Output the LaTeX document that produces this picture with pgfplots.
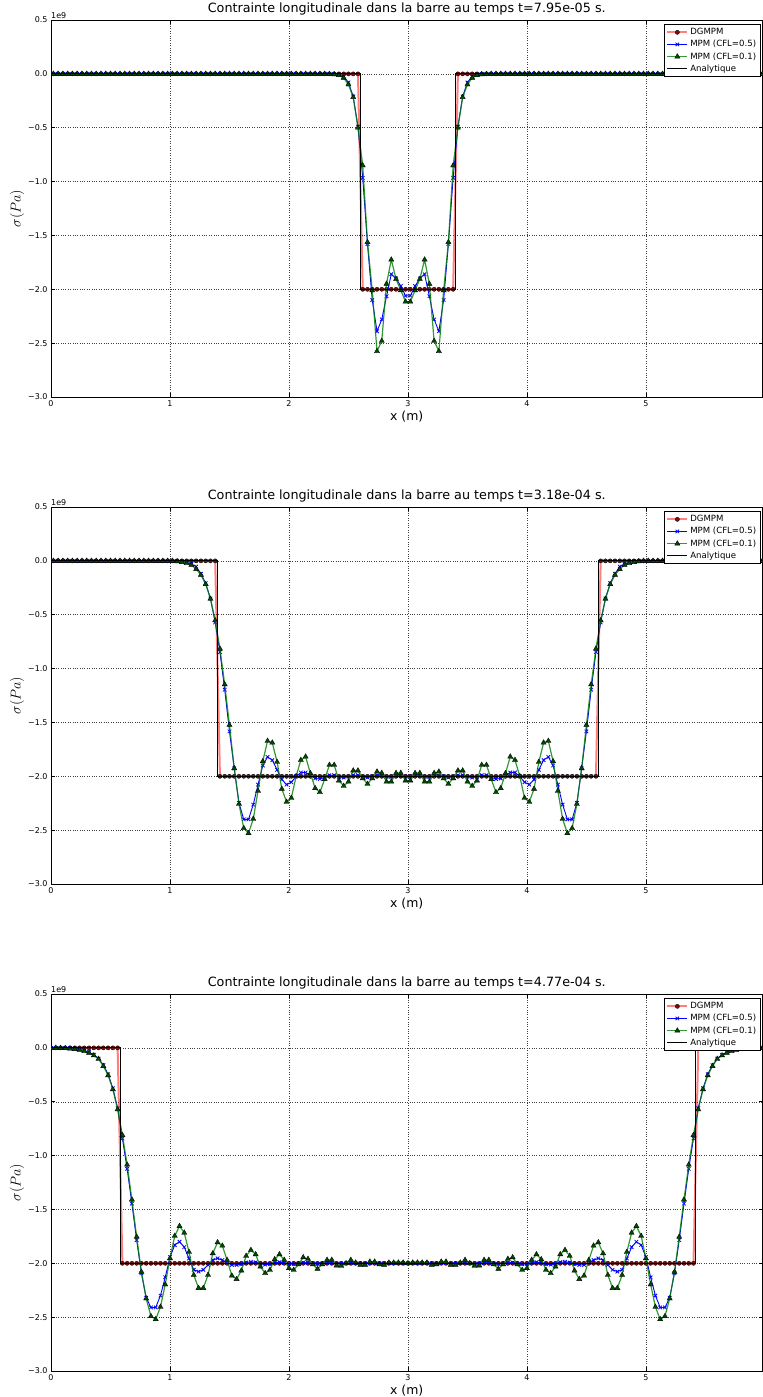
\documentclass[border=0pt]{standalone}
\usepackage{fontspec}
\setmainfont{DejaVu Sans}
\usepackage{pgfplots}
\usepackage{pgfplotstable}
\pgfplotsset{compat=1.18}
\definecolor{dgfill}{RGB}{115,18,18}
\definecolor{mgreen}{RGB}{0,128,0}
\definecolor{tfill}{RGB}{0,75,0}

\pgfplotstableread{
x dg m5 m1
0.02 0 0 0
0.06 0 0 0
0.10 0 0 0
0.14 0 0 0
0.18 0 0 0
0.22 0 0 0
0.26 0 0 0
0.30 0 0 0
0.34 0 0 0
0.38 0 0 0
0.42 0 0 0
0.46 0 0 0
0.50 0 0 0
0.54 0 0 0
0.58 0 0 0
0.62 0 0 0
0.66 0 0 0
0.70 0 0 0
0.74 0 0 0
0.78 0 0 0
0.82 0 0 0
0.86 0 0 0
0.90 0 0 0
0.94 0 0 0
0.98 0 0 0
1.02 0 0 0
1.06 0 0 0
1.10 0 0 0
1.14 0 0 0
1.18 0 0 0
1.22 0 0 0
1.26 0 0 0
1.30 0 0 0
1.34 0 0 0
1.38 0 0 0
1.42 0 0 0
1.46 0 0 0
1.50 0 0 0
1.54 0 0 0
1.58 0 0 0
1.62 0 0 0
1.66 0 0 0
1.70 0 0 0
1.74 0 0 0
1.78 0 0 0
1.82 0 0 0
1.86 0 0 0
1.90 0 0 0
1.94 0 0 0
1.98 0 0 0
2.02 0 0 0
2.06 0 0 0
2.10 0 0 0
2.14 0 0 0
2.18 0 0 0
2.22 0 0 0
2.26 0 0 0
2.30 0 0 0
2.34 0 0 -0.002
2.38 0 -0.003 -0.005
2.42 0 -0.008 -0.013
2.46 0 -0.025 -0.037
2.50 0 -0.08 -0.099
2.54 0 -0.21 -0.217
2.58 0 -0.49 -0.50
2.62 -2 -0.965 -0.851
2.66 -2 -1.58 -1.563
2.70 -2 -2.10 -2.01
2.74 -2 -2.39 -2.575
2.78 -2 -2.28 -2.48
2.82 -2 -2.065 -1.95
2.86 -2 -1.86 -1.725
2.90 -2 -1.90 -1.905
2.94 -2 -1.97 -2.01
2.98 -2 -2.06 -2.115
3.02 -2 -2.06 -2.115
3.06 -2 -1.97 -2.01
3.10 -2 -1.90 -1.905
3.14 -2 -1.86 -1.725
3.18 -2 -2.065 -1.95
3.22 -2 -2.28 -2.48
3.26 -2 -2.39 -2.575
3.30 -2 -2.10 -2.01
3.34 -2 -1.58 -1.563
3.38 -2 -0.965 -0.851
3.42 0 -0.49 -0.50
3.46 0 -0.21 -0.217
3.50 0 -0.08 -0.099
3.54 0 -0.025 -0.037
3.58 0 -0.008 -0.013
3.62 0 -0.003 -0.005
3.66 0 0 -0.002
3.70 0 0 0
3.74 0 0 0
3.78 0 0 0
3.82 0 0 0
3.86 0 0 0
3.90 0 0 0
3.94 0 0 0
3.98 0 0 0
4.02 0 0 0
4.06 0 0 0
4.10 0 0 0
4.14 0 0 0
4.18 0 0 0
4.22 0 0 0
4.26 0 0 0
4.30 0 0 0
4.34 0 0 0
4.38 0 0 0
4.42 0 0 0
4.46 0 0 0
4.50 0 0 0
4.54 0 0 0
4.58 0 0 0
4.62 0 0 0
4.66 0 0 0
4.70 0 0 0
4.74 0 0 0
4.78 0 0 0
4.82 0 0 0
4.86 0 0 0
4.90 0 0 0
4.94 0 0 0
4.98 0 0 0
5.02 0 0 0
5.06 0 0 0
5.10 0 0 0
5.14 0 0 0
5.18 0 0 0
5.22 0 0 0
5.26 0 0 0
5.30 0 0 0
5.34 0 0 0
5.38 0 0 0
5.42 0 0 0
5.46 0 0 0
5.50 0 0 0
5.54 0 0 0
5.58 0 0 0
5.62 0 0 0
5.66 0 0 0
5.70 0 0 0
5.74 0 0 0
5.78 0 0 0
5.82 0 0 0
5.86 0 0 0
5.90 0 0 0
5.94 0 0 0
5.98 0 0 0
}\tA

\pgfplotstableread{
x dg m5 m1
0.02 0 0 0
0.06 0 0 0
0.10 0 0 0
0.14 0 0 0
0.18 0 0 0
0.22 0 0 0
0.26 0 0 0
0.30 0 0 0
0.34 0 0 0
0.38 0 0 0
0.42 0 0 0
0.46 0 0 0
0.50 0 0 0
0.54 0 0 0
0.58 0 0 0
0.62 0 0 0
0.66 0 0 0
0.70 0 0 0
0.74 0 0 0
0.78 0 0 0
0.82 0 0 0
0.86 0 0 0
0.90 0 0 0
0.94 0 0 0
0.98 0 0 0
1.02 0 0 0
1.06 0 0 -0.005
1.10 0 -0.006 -0.012
1.14 0 -0.015 -0.022
1.18 0 -0.03 -0.037
1.22 0 -0.053 -0.077
1.26 0 -0.12 -0.130
1.30 0 -0.207 -0.216
1.34 0 -0.35 -0.352
1.38 0 -0.572 -0.553
1.42 -2 -0.847 -0.816
1.46 -2 -1.196 -1.147
1.50 -2 -1.583 -1.524
1.54 -2 -1.926 -1.926
1.58 -2 -2.247 -2.257
1.62 -2 -2.40 -2.482
1.66 -2 -2.40 -2.529
1.70 -2 -2.263 -2.396
1.74 -2 -2.077 -2.136
1.78 -2 -1.90 -1.861
1.82 -2 -1.82 -1.672
1.86 -2 -1.85 -1.688
1.90 -2 -1.94 -1.867
1.94 -2 -2.03 -2.117
1.98 -2 -2.077 -2.238
2.02 -2 -2.055 -2.201
2.06 -2 -2.0 -2.0
2.10 -2 -1.965 -1.849
2.14 -2 -1.965 -1.818
2.18 -2 -1.99 -1.972
2.22 -2 -2.02 -2.111
2.26 -2 -2.025 -2.148
2.30 -2 -2.01 -2.028
2.34 -2 -1.99 -1.895
2.38 -2 -1.99 -1.895
2.42 -2 -2.005 -2.04
2.46 -2 -2.012 -2.09
2.50 -2 -2.003 -2.05
2.54 -2 -1.99 -1.947
2.58 -2 -1.99 -1.947
2.62 -2 -2.003 -2.019
2.66 -2 -2.01 -2.071
2.70 -2 -2.0 -2.02
2.74 -2 -1.995 -1.957
2.78 -2 -1.995 -1.97
2.82 -2 -2.005 -2.05
2.86 -2 -2.005 -2.05
2.90 -2 -1.995 -1.97
2.94 -2 -1.995 -1.97
2.98 -2 -2.003 -2.04
3.02 -2 -2.003 -2.04
3.06 -2 -1.995 -1.97
3.10 -2 -1.995 -1.97
3.14 -2 -2.005 -2.05
3.18 -2 -2.005 -2.05
3.22 -2 -1.995 -1.97
3.26 -2 -1.995 -1.957
3.30 -2 -2.0 -2.02
3.34 -2 -2.01 -2.071
3.38 -2 -2.003 -2.019
3.42 -2 -1.99 -1.947
3.46 -2 -1.99 -1.947
3.50 -2 -2.003 -2.05
3.54 -2 -2.012 -2.09
3.58 -2 -2.005 -2.04
3.62 -2 -1.99 -1.895
3.66 -2 -1.99 -1.895
3.70 -2 -2.01 -2.028
3.74 -2 -2.025 -2.148
3.78 -2 -2.02 -2.111
3.82 -2 -1.99 -1.972
3.86 -2 -1.965 -1.818
3.90 -2 -1.965 -1.849
3.94 -2 -2.0 -2.0
3.98 -2 -2.055 -2.201
4.02 -2 -2.077 -2.238
4.06 -2 -2.03 -2.117
4.10 -2 -1.94 -1.867
4.14 -2 -1.85 -1.688
4.18 -2 -1.82 -1.672
4.22 -2 -1.90 -1.861
4.26 -2 -2.077 -2.136
4.30 -2 -2.263 -2.396
4.34 -2 -2.40 -2.529
4.38 -2 -2.40 -2.482
4.42 -2 -2.247 -2.257
4.46 -2 -1.926 -1.926
4.50 -2 -1.583 -1.524
4.54 -2 -1.196 -1.147
4.58 -2 -0.847 -0.816
4.62 0 -0.572 -0.553
4.66 0 -0.35 -0.352
4.70 0 -0.207 -0.216
4.74 0 -0.12 -0.130
4.78 0 -0.053 -0.077
4.82 0 -0.03 -0.037
4.86 0 -0.015 -0.022
4.90 0 -0.006 -0.012
4.94 0 0 -0.005
4.98 0 0 0
5.02 0 0 0
5.06 0 0 0
5.10 0 0 0
5.14 0 0 0
5.18 0 0 0
5.22 0 0 0
5.26 0 0 0
5.30 0 0 0
5.34 0 0 0
5.38 0 0 0
5.42 0 0 0
5.46 0 0 0
5.50 0 0 0
5.54 0 0 0
5.58 0 0 0
5.62 0 0 0
5.66 0 0 0
5.70 0 0 0
5.74 0 0 0
5.78 0 0 0
5.82 0 0 0
5.86 0 0 0
5.90 0 0 0
5.94 0 0 0
5.98 0 0 0
}\tB

\pgfplotstableread{
x dg m5 m1
0.00 0 0 0
0.04 0 0 -0.001
0.08 0 0 -0.002
0.12 0 -0.002 -0.004
0.16 0 -0.004 -0.007
0.20 0 -0.008 -0.012
0.24 0 -0.015 -0.02
0.28 0 -0.025 -0.031
0.32 0 -0.04 -0.046
0.36 0 -0.065 -0.07
0.40 0 -0.10 -0.103
0.44 0 -0.16 -0.169
0.48 0 -0.245 -0.255
0.52 0 -0.375 -0.385
0.56 0 -0.56 -0.572
0.60 -2 -0.84 -0.81
0.64 -2 -1.123 -1.085
0.68 -2 -1.446 -1.409
0.72 -2 -1.785 -1.754
0.76 -2 -2.092 -2.08
0.80 -2 -2.32 -2.327
0.84 -2 -2.41 -2.492
0.88 -2 -2.41 -2.52
0.92 -2 -2.30 -2.405
0.96 -2 -2.13 -2.197
1.00 -2 -1.943 -1.954
1.04 -2 -1.83 -1.746
1.08 -2 -1.80 -1.655
1.12 -2 -1.85 -1.717
1.16 -2 -1.955 -1.895
1.20 -2 -2.06 -2.109
1.24 -2 -2.077 -2.23
1.28 -2 -2.06 -2.23
1.32 -2 -2.015 -2.108
1.36 -2 -1.97 -1.908
1.40 -2 -1.954 -1.806
1.44 -2 -1.97 -1.837
1.48 -2 -1.994 -1.97
1.52 -2 -2.015 -2.115
1.56 -2 -2.015 -2.147
1.60 -2 -2.008 -2.068
1.64 -2 -1.993 -1.932
1.68 -2 -1.986 -1.877
1.72 -2 -1.99 -1.917
1.76 -2 -2.004 -2.031
1.80 -2 -2.012 -2.092
1.84 -2 -2.008 -2.062
1.88 -2 -1.996 -1.963
1.92 -2 -1.99 -1.917
1.96 -2 -1.995 -1.969
2.00 -2 -2.006 -2.046
2.04 -2 -2.008 -2.062
2.08 -2 -2.002 -2.01
2.12 -2 -1.994 -1.945
2.16 -2 -1.995 -1.96
2.20 -2 -2.002 -2.01
2.24 -2 -2.006 -2.052
2.28 -2 -2.002 -2.01
2.32 -2 -1.996 -1.969
2.36 -2 -1.996 -1.969
2.40 -2 -2.003 -2.022
2.44 -2 -2.003 -2.025
2.48 -2 -2.0 -2.0
2.52 -2 -1.996 -1.969
2.56 -2 -1.999 -1.994
2.60 -2 -2.002 -2.015
2.64 -2 -2.002 -2.015
2.68 -2 -1.998 -1.985
2.72 -2 -1.998 -1.985
2.76 -2 -2.001 -2.01
2.80 -2 -2.002 -2.015
2.84 -2 -1.999 -1.994
2.88 -2 -1.999 -1.994
2.92 -2 -1.999 -1.994
2.96 -2 -1.999 -1.994
3.00 -2 -2.0 -2.0
3.04 -2 -1.999 -1.994
3.08 -2 -1.999 -1.994
3.12 -2 -1.999 -1.994
3.16 -2 -1.999 -1.994
3.20 -2 -2.002 -2.015
3.24 -2 -2.001 -2.01
3.28 -2 -1.998 -1.985
3.32 -2 -1.998 -1.985
3.36 -2 -2.002 -2.015
3.40 -2 -2.002 -2.015
3.44 -2 -1.999 -1.994
3.48 -2 -1.996 -1.969
3.52 -2 -2.0 -2.0
3.56 -2 -2.003 -2.025
3.60 -2 -2.003 -2.022
3.64 -2 -1.996 -1.969
3.68 -2 -1.996 -1.969
3.72 -2 -2.002 -2.01
3.76 -2 -2.006 -2.052
3.80 -2 -2.002 -2.01
3.84 -2 -1.995 -1.96
3.88 -2 -1.994 -1.945
3.92 -2 -2.002 -2.01
3.96 -2 -2.008 -2.062
4.00 -2 -2.006 -2.046
4.04 -2 -1.995 -1.969
4.08 -2 -1.99 -1.917
4.12 -2 -1.996 -1.963
4.16 -2 -2.008 -2.062
4.20 -2 -2.012 -2.092
4.24 -2 -2.004 -2.031
4.28 -2 -1.99 -1.917
4.32 -2 -1.986 -1.877
4.36 -2 -1.993 -1.932
4.40 -2 -2.008 -2.068
4.44 -2 -2.015 -2.147
4.48 -2 -2.015 -2.115
4.52 -2 -1.994 -1.97
4.56 -2 -1.97 -1.837
4.60 -2 -1.954 -1.806
4.64 -2 -1.97 -1.908
4.68 -2 -2.015 -2.108
4.72 -2 -2.06 -2.23
4.76 -2 -2.077 -2.23
4.80 -2 -2.06 -2.109
4.84 -2 -1.955 -1.895
4.88 -2 -1.85 -1.717
4.92 -2 -1.80 -1.655
4.96 -2 -1.83 -1.746
5.00 -2 -1.943 -1.954
5.04 -2 -2.13 -2.197
5.08 -2 -2.30 -2.405
5.12 -2 -2.41 -2.52
5.16 -2 -2.41 -2.492
5.20 -2 -2.32 -2.327
5.24 -2 -2.092 -2.08
5.28 -2 -1.785 -1.754
5.32 -2 -1.446 -1.409
5.36 -2 -1.123 -1.085
5.40 -2 -0.84 -0.81
5.44 0 -0.56 -0.572
5.48 0 -0.375 -0.385
5.52 0 -0.245 -0.255
5.56 0 -0.16 -0.169
5.60 0 -0.10 -0.103
5.64 0 -0.065 -0.07
5.68 0 -0.04 -0.046
5.72 0 -0.025 -0.031
5.76 0 -0.015 -0.02
5.80 0 -0.008 -0.012
5.84 0 -0.004 -0.007
5.88 0 -0.002 -0.004
5.92 0 0 -0.002
5.96 0 0 -0.001
6.00 0 0 0
}\tC

\pgfplotsset{
  base/.style={
    width=711.5bp, height=377bp, scale only axis,
    xmin=0, xmax=5.98, ymin=-3, ymax=0.5,
    xtick={0,1,2,3,4,5}, xticklabels={0,1,2,3,4,5},
    ytick={-3,-2.5,-2,-1.5,-1,-0.5,0,0.5},
    yticklabels={−3.0,−2.5,−2.0,−1.5,−1.0,−0.5,0.0,0.5},
    grid=major, major grid style={black!75, dotted, line width=0.45bp},
    tick align=inside, major tick length=4bp,
    every tick/.style={black, line width=0.5bp},
    axis line style={black, line width=0.8bp},
    ticklabel style={font=\fontsize{8}{9}\selectfont},
    xlabel={x (m)},
    xlabel style={font=\fontsize{12.5}{14}\selectfont, at={(axis description cs:0.5,0)}, anchor=base, yshift=-23bp},
    ylabel={$\sigma(Pa)$},
    ylabel style={font=\fontsize{14}{16}\selectfont, at={(axis description cs:-0.0478,0.5)}, anchor=center},
    title style={font=\fontsize{12.8}{15}\selectfont, at={(axis description cs:0.5,1)}, anchor=base, yshift=2bp},
    legend style={at={(axis description cs:1,1)}, anchor=north east, xshift=-2bp, yshift=-4bp,
      font=\fontsize{8.6}{10}\selectfont, draw=black, line width=0.8bp, inner sep=2bp, row sep=0.2bp},
    legend cell align=left,
    legend image code/.code={\draw[mark repeat=2,mark phase=2] plot coordinates {(0cm,0cm) (0.35cm,0cm) (0.7cm,0cm)};},
    clip marker paths=true,
    after end axis/.code={\node[anchor=base west, font=\fontsize{8}{9}\selectfont, inner sep=0pt] at (rel axis cs:0,1) [yshift=1.8bp] {1e9};},
  },
  dgstyle/.style={red, draw opacity=0.5, line width=2bp, mark=*, mark size=2.1bp,
    mark options={solid, fill=dgfill, draw=black, line width=0.35bp, draw opacity=1, fill opacity=1}},
  m5style/.style={blue, line width=0.9bp, mark=x, mark size=2.5bp,
    mark options={solid, blue, line width=0.8bp}},
  m1style/.style={mgreen, draw opacity=0.8, line width=1.2bp, mark=triangle*, mark size=3bp,
    mark options={solid, fill=tfill, draw=black, line width=0.35bp, draw opacity=1, fill opacity=1}},
  anstyle/.style={black, line width=0.9bp},
}

\begin{document}
\begin{tikzpicture}
\useasboundingbox (0,0) rectangle (763bp,-1397bp);
\begin{axis}[base, at={(51bp,-397bp)}, anchor=south west,
  title={Contrainte longitudinale dans la barre au temps t=7.95e-05 s.}]
\addplot[dgstyle] table[x=x,y=dg]{\tA};
\addplot[m5style] table[x=x,y=m5]{\tA};
\addplot[m1style] table[x=x,y=m1]{\tA};
\addplot[anstyle] coordinates {(0,0) (2.6,0) (2.6,-2) (3.4,-2) (3.4,0) (5.98,0)};
\legend{DGMPM,{MPM (CFL=0.5)},{MPM (CFL=0.1)},Analytique}
\end{axis}
\begin{axis}[base, at={(51bp,-884bp)}, anchor=south west,
  title={Contrainte longitudinale dans la barre au temps t=3.18e-04 s.}]
\addplot[dgstyle] table[x=x,y=dg]{\tB};
\addplot[m5style] table[x=x,y=m5]{\tB};
\addplot[m1style] table[x=x,y=m1]{\tB};
\addplot[anstyle] coordinates {(0,0) (1.4,0) (1.4,-2) (4.6,-2) (4.6,0) (5.98,0)};
\legend{DGMPM,{MPM (CFL=0.5)},{MPM (CFL=0.1)},Analytique}
\end{axis}
\begin{axis}[base, at={(51bp,-1371bp)}, anchor=south west,
  title={Contrainte longitudinale dans la barre au temps t=4.77e-04 s.}]
\addplot[dgstyle] table[x=x,y=dg]{\tC};
\addplot[m5style] table[x=x,y=m5]{\tC};
\addplot[m1style] table[x=x,y=m1]{\tC};
\addplot[anstyle] coordinates {(0,0) (0.58,0) (0.58,-2) (5.42,-2) (5.42,0) (5.98,0)};
\legend{DGMPM,{MPM (CFL=0.5)},{MPM (CFL=0.1)},Analytique}
\end{axis}
\end{tikzpicture}
\end{document}
